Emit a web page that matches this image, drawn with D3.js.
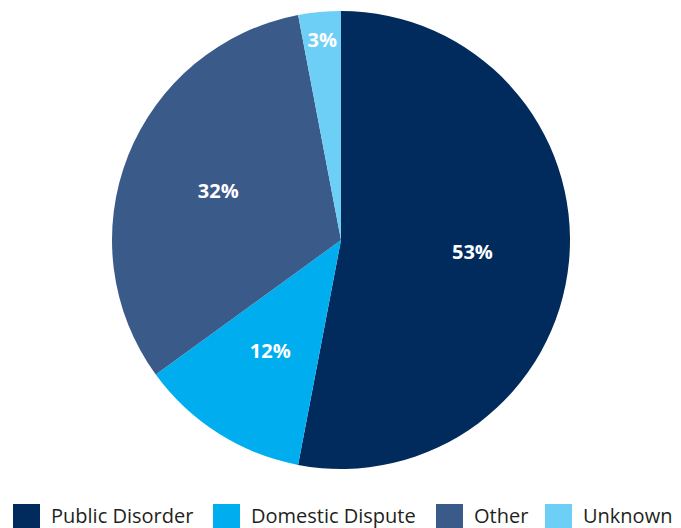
<!DOCTYPE html>
<html>
<head>
<meta charset="utf-8">
<script src="https://cdn.jsdelivr.net/npm/d3@7"></script>
<style>
  html, body { margin: 0; padding: 0; background: #fff; }
  svg { display: block; }
</style>
</head>
<body>
<svg id="chart" width="681" height="528"></svg>
<script>
const categories = ["Public Disorder", "Domestic Dispute", "Other", "Unknown"];
const values = [53, 12, 32, 3];
const labels = ["53%", "12%", "32%", "3%"];
const colors = ["#002b5c", "#00aeef", "#3a5a8a", "#6dcff6"];

const svg = d3.select("#chart");
const cx = 341, cy = 240, R = 229;

const data = categories.map((c, i) => ({ name: c, value: values[i], label: labels[i], color: colors[i] }));

const pie = d3.pie().sort(null).value(d => d.value);
const arc = d3.arc().innerRadius(0).outerRadius(R);
const labelArc = d3.arc().innerRadius(132).outerRadius(132);
const smallArc = d3.arc().innerRadius(200).outerRadius(200);

const g = svg.append("g").attr("transform", `translate(${cx},${cy})`);
const arcs = pie(data);

g.selectAll("path").data(arcs).enter().append("path")
  .attr("d", arc)
  .attr("fill", d => d.data.color);

g.selectAll("text").data(arcs).enter().append("text")
  .attr("transform", d => {
    const c = (d.data.value < 5 ? smallArc : labelArc).centroid(d);
    return `translate(${c[0]},${c[1]})`;
  })
  .attr("text-anchor", "middle")
  .attr("dy", "0.33em")
  .attr("fill", "#fff")
  .attr("font-family", "'Open Sans', sans-serif")
  .attr("font-weight", "bold")
  .attr("font-size", 20)
  .text(d => d.data.label);

// legend
const legendX = [13, 213, 436, 545];
const lg = svg.append("g");
data.forEach((d, i) => {
  const item = lg.append("g").attr("transform", `translate(${legendX[i]},504)`);
  item.append("rect").attr("width", 27).attr("height", 24).attr("fill", d.color);
  item.append("text").attr("x", 38).attr("y", 19)
    .attr("font-family", "'Open Sans', sans-serif")
    .attr("font-size", 20)
    .attr("fill", "#231f20")
    .text(d.name);
});
</script>
</body>
</html>
